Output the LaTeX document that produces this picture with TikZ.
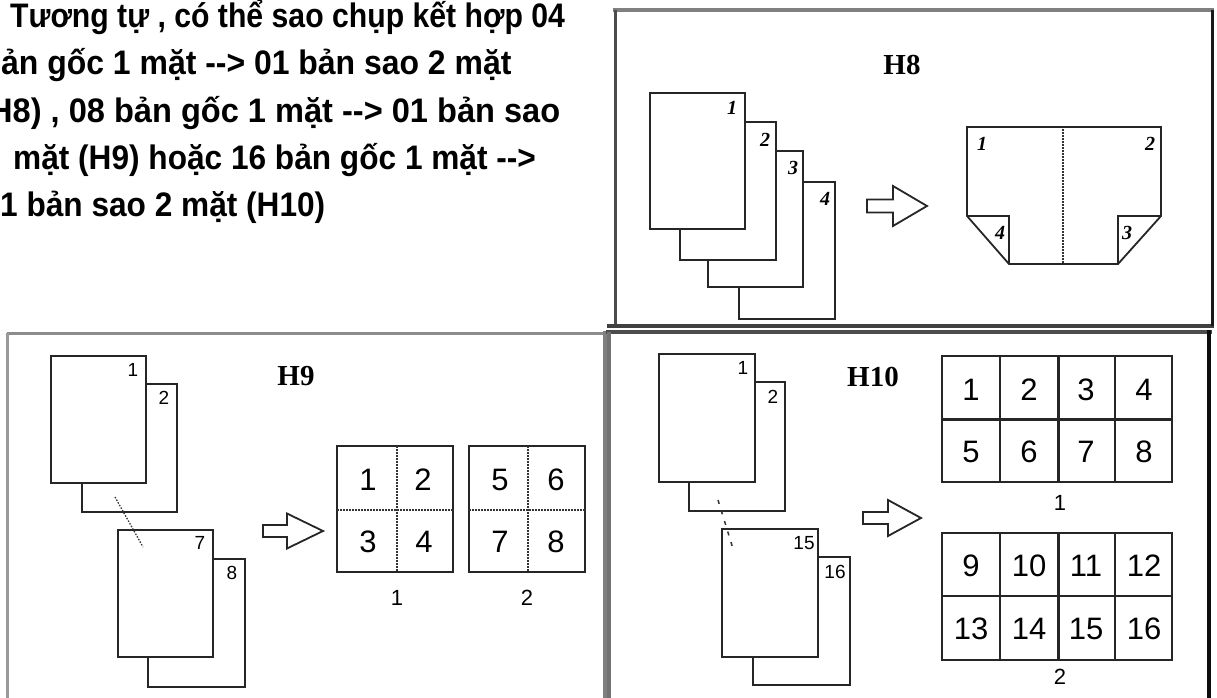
\documentclass[tikz,border=0pt]{standalone}
\usepackage{fontspec}
\setmainfont{Liberation Sans}
\newfontfamily\txtfont[FakeStretch=0.93]{Liberation Sans}
\newfontfamily\serfont{Liberation Serif}
\newfontfamily\numfont{Liberation Sans}
\newcommand\blockarrow[6]{% lx, cy, shaft half, head base, head half, tip
  \draw[arrowshape] ({#1},{#2-#3}) -- ({#4},{#2-#3}) -- ({#4},{#2-#5}) -- ({#6},{#2}) -- ({#4},{#2+#5}) -- ({#4},{#2+#3}) -- ({#1},{#2+#3}) -- cycle;}
\newcommand\dsh{-\kern0pt-\kern0pt>}
\begin{document}
\begin{tikzpicture}[x=1pt,y=-1pt,
  pg/.style={draw=black!85, line width=1.8pt, fill=white},
  ln/.style={draw=black!85, line width=1.8pt, line join=miter},
  arrowshape/.style={draw=black!85, line width=1.8pt, fill=white, line join=miter},
  txt/.style={anchor=base west, inner sep=0pt, font=\txtfont\bfseries\fontsize{34}{34}\selectfont},
  hlab/.style={inner sep=0pt, font=\serfont\bfseries\fontsize{29}{29}\selectfont},
  itnum/.style={inner sep=0pt, font=\serfont\bfseries\itshape\fontsize{20}{20}\selectfont},
  pnum/.style={inner sep=0pt, font=\numfont\fontsize{19}{19}\selectfont},
  gnum/.style={inner sep=0pt, font=\numfont\fontsize{31}{31}\selectfont},
  glab/.style={inner sep=0pt, font=\numfont\fontsize{22}{22}\selectfont},
  dotl/.style={draw=black!80, line width=1.3pt, dash pattern=on 1.5pt off 1.5pt},
]
\useasboundingbox (0,0) rectangle (1217,698);
\clip (0,0) rectangle (1217,698);
\fill[white] (0,0) rectangle (1217,698);

% ---------- text ----------
\node[txt] (t1) at (10,28) {\scalebox{0.955}[1]{Tương tự , có thể sao chụp kết hợp 04}};
\node[txt] (t2) at (1,75) {\scalebox{1.01}[1]{ản gốc 1 mặt \dsh{} 01 bản sao 2 mặt}};
\node[txt] (t3) at (-11,122) {\scalebox{1.03}[1]{H8) , 08 bản gốc 1 mặt \dsh{} 01 bản sao}};
\node[txt] (t4) at (13,169) {mặt (H9) hoặc 16 bản gốc 1 mặt \dsh};
\node[txt] (t5) at (0,216) {1 bản sao 2 mặt (H10)};

% ---------- H8 panel ----------
\draw[draw=black!50, line width=4pt] (613,10) -- (1214,10);
\draw[draw=black!70, line width=3pt] (615,10) -- (615,326);
\draw[draw=black!75, line width=4pt] (607,326) -- (1214,326);
\draw[draw=black!90, line width=3pt] (1212,10) -- (1212,326);
\node[hlab] (h8) at (902,65) {H8};
\draw[pg] (739,182) rectangle (835,319);
\draw[pg] (708,151) rectangle (803,287);
\draw[pg] (680,122) rectangle (776,260);
\draw[pg] (650,93) rectangle (745,229);
\node[itnum] (n81) at (732,108) {1};
\node[itnum] (n82) at (765,140) {2};
\node[itnum] (n83) at (793,168) {3};
\node[itnum] (n84) at (825,199) {4};
\blockarrow{867}{206}{6.5}{893}{20}{927}
\draw[ln] (967,127) -- (1161,127) -- (1161,216) -- (1118,264) -- (1009,264) -- (967,216) -- cycle;
\draw[ln] (967,216) -- (1009,216) -- (1009,264);
\draw[ln] (1161,216) -- (1118,216) -- (1118,264);
\draw[dotl] (1063,129) -- (1063,263);
\node[itnum] (f1) at (982,144) {1};
\node[itnum] (f2) at (1150,144) {2};
\node[itnum] (f4) at (1000,233) {4};
\node[itnum] (f3) at (1127,233) {3};

% ---------- H9 panel ----------
\draw[draw=black!45, line width=3pt] (7,333) -- (606,333);
\draw[draw=black!40, line width=3pt] (7,333) -- (7,700);
\draw[draw=black!50, line width=4pt] (605,331) -- (605,700);
\node[hlab] (h9) at (296,376) {H9};
\draw[pg] (148,559) rectangle (245,687);
\draw[pg] (118,530) rectangle (213,657);
\draw[pg] (82,384) rectangle (177,512);
\draw[pg] (51,356) rectangle (146,483);
\node[pnum] (n91) at (133,370) {1};
\node[pnum] (n92) at (164,398) {2};
\node[pnum] (n97) at (200,543) {7};
\node[pnum] (n98) at (232,573) {8};
\draw[dotl] (115,497) -- (143,547);
\blockarrow{263}{531}{6}{287}{17.5}{323}
% grids
\draw[ln] (337,446) rectangle (453,572);
\draw[dotl] (397,446) -- (397,572);
\draw[dotl] (337,510) -- (453,510);
\draw[ln] (469,446) rectangle (585,572);
\draw[dotl] (528,446) -- (528,572);
\draw[dotl] (469,510) -- (585,510);
\node[gnum] (g91) at (368,480) {1};
\node[gnum] (g92) at (423,480) {2};
\node[gnum] (g93) at (368,542) {3};
\node[gnum] (g94) at (424,542) {4};
\node[gnum] (g95) at (500,480) {5};
\node[gnum] (g96) at (556,480) {6};
\node[gnum] (g97) at (500,542) {7};
\node[gnum] (g98) at (556,542) {8};
\node[glab] (l91) at (397,598) {1};
\node[glab] (l92) at (527,598) {2};

% ---------- H10 panel ----------
\draw[draw=black!70, line width=4.5pt] (606,332) -- (1212,332);
\draw[draw=black!55, line width=4.5pt] (609,332) -- (609,700);
\draw[draw=black!95, line width=4pt] (1209,330) -- (1209,700);
\node[hlab] (h10) at (873,377) {H10};
\draw[pg] (753,557) rectangle (850,685);
\draw[pg] (722,529) rectangle (818,657);
\draw[pg] (689,382) rectangle (785,511);
\draw[pg] (659,354) rectangle (755,482);
\node[pnum] (m1) at (743,368) {1};
\node[pnum] (m2) at (773,397) {2};
\node[pnum] (m15) at (804,543) {15};
\node[pnum] (m16) at (835,572) {16};
\draw[draw=black!80, line width=1.5pt, dash pattern=on 4pt off 7pt] (718,500) -- (734,552);
\blockarrow{863}{518}{6}{888}{18}{921}
% top grid
\draw[ln] (942,356) rectangle (1172,482);
\draw[draw=black!85, line width=3pt] (942,419) -- (1172,419);
\draw[draw=black!85, line width=1.5pt] (1000,356) -- (1000,482);
\draw[draw=black!85, line width=3pt] (1058,356) -- (1058,482);
\draw[draw=black!85, line width=1.5pt] (1115,356) -- (1115,482);
% bottom grid
\draw[ln] (942,533) rectangle (1172,660);
\draw[draw=black!85, line width=1.5pt] (942,596) -- (1172,596);
\draw[draw=black!85, line width=1.5pt] (1000,533) -- (1000,660);
\draw[draw=black!85, line width=3pt] (1058,533) -- (1058,660);
\draw[draw=black!85, line width=1.5pt] (1115,533) -- (1115,660);
\node[gnum] (c1) at (971,390) {1};
\node[gnum] (c2) at (1029,390) {2};
\node[gnum] (c3) at (1086,390) {3};
\node[gnum] (c4) at (1144,390) {4};
\node[gnum] (c5) at (971,452) {5};
\node[gnum] (c6) at (1029,452) {6};
\node[gnum] (c7) at (1086,452) {7};
\node[gnum] (c8) at (1144,452) {8};
\node[gnum] (c9) at (971,566) {9};
\node[gnum] (c10) at (1029,566) {10};
\node[gnum] (c11) at (1086,566) {11};
\node[gnum] (c12) at (1144,566) {12};
\node[gnum] (c13) at (971,629) {13};
\node[gnum] (c14) at (1029,629) {14};
\node[gnum] (c15) at (1086,629) {15};
\node[gnum] (c16) at (1144,629) {16};
\node[glab] (l101) at (1060,503) {1};
\node[glab] (l102) at (1060,677) {2};
\end{tikzpicture}
\end{document}
